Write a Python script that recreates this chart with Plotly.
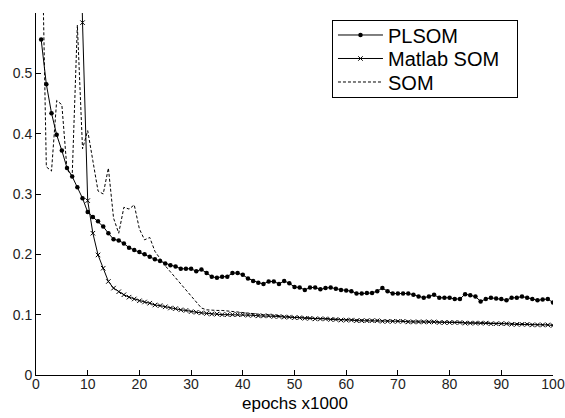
import plotly.graph_objects as go

epochs = list(range(1, 101))

plsom = [0.556, 0.482, 0.434, 0.398, 0.372, 0.343, 0.329, 0.311, 0.293, 0.270,
         0.262, 0.255, 0.246, 0.235, 0.225, 0.223, 0.218, 0.211, 0.207, 0.204,
         0.200, 0.196, 0.192, 0.189, 0.185, 0.182, 0.180, 0.176, 0.176, 0.176,
         0.172, 0.175, 0.169, 0.163, 0.161, 0.163, 0.163, 0.169, 0.169, 0.166,
         0.160, 0.156, 0.153, 0.151, 0.155, 0.155, 0.151, 0.156, 0.152, 0.146,
         0.145, 0.141, 0.145, 0.145, 0.142, 0.144, 0.145, 0.143, 0.141, 0.140,
         0.139, 0.135, 0.135, 0.136, 0.136, 0.139, 0.144, 0.139, 0.135, 0.135,
         0.135, 0.135, 0.133, 0.130, 0.128, 0.130, 0.133, 0.128, 0.128, 0.128,
         0.126, 0.126, 0.134, 0.132, 0.130, 0.122, 0.126, 0.128, 0.127, 0.126,
         0.124, 0.128, 0.128, 0.130, 0.128, 0.126, 0.124, 0.125, 0.126, 0.120]

matlab_som = [None, None, None, None, None, None, None, 1.000, 0.584, 0.289,
              0.235, 0.199, 0.177, 0.155, 0.144, 0.138, 0.133, 0.129, 0.126, 0.123,
              0.121, 0.119, 0.116, 0.115, 0.113, 0.111, 0.110, 0.108, 0.107, 0.105,
              0.104, 0.103, 0.102, 0.101, 0.101, 0.100, 0.100, 0.100, 0.100, 0.100,
              0.099, 0.099, 0.098, 0.098, 0.098, 0.097, 0.097, 0.096, 0.096, 0.095,
              0.095, 0.094, 0.094, 0.093, 0.093, 0.093, 0.092, 0.092, 0.091, 0.091,
              0.091, 0.090, 0.090, 0.090, 0.090, 0.090, 0.089, 0.089, 0.089, 0.089,
              0.089, 0.088, 0.088, 0.088, 0.088, 0.088, 0.088, 0.087, 0.087, 0.087,
              0.087, 0.087, 0.086, 0.086, 0.086, 0.086, 0.086, 0.085, 0.085, 0.085,
              0.085, 0.084, 0.084, 0.084, 0.084, 0.083, 0.083, 0.083, 0.083, 0.082]

som = [0.800, 0.345, 0.338, 0.455, 0.448, 0.340, 0.330, 0.580, 0.375, 0.405,
       0.355, 0.305, 0.300, 0.343, 0.260, 0.235, 0.278, 0.275, 0.282, 0.242,
       0.224, 0.228, 0.205, 0.192, 0.181, 0.171, 0.161, 0.151, 0.141, 0.131,
       0.121, 0.111, 0.108, 0.107, 0.107, 0.107, 0.106, 0.106, 0.105, 0.104,
       0.103, 0.102, 0.101, 0.100, 0.100, 0.099, 0.098, 0.097, 0.097, 0.096,
       0.096, 0.095, 0.095, 0.094, 0.094, 0.094, 0.093, 0.093, 0.092, 0.092,
       0.092, 0.091, 0.091, 0.091, 0.091, 0.091, 0.090, 0.090, 0.090, 0.090,
       0.090, 0.089, 0.089, 0.089, 0.089, 0.089, 0.089, 0.088, 0.088, 0.088,
       0.088, 0.088, 0.087, 0.087, 0.087, 0.087, 0.087, 0.086, 0.086, 0.086,
       0.086, 0.085, 0.085, 0.085, 0.085, 0.084, 0.084, 0.084, 0.084, 0.083]

x_ticks = [0, 10, 20, 30, 40, 50, 60, 70, 80, 90, 100]
x_tick_labels = ["0", "10", "20", "30", "40", "50", "60", "70", "80", "90", "100"]
y_ticks = [0, 0.1, 0.2, 0.3, 0.4, 0.5]
y_tick_labels = ["0", "0.1", "0.2", "0.3", "0.4", "0.5"]
x_title = "epochs x1000"

FONT = "Liberation Sans, Arial, sans-serif"

fig = go.Figure()
fig.add_trace(go.Scatter(
    x=epochs, y=plsom, name="PLSOM", mode="lines+markers",
    line=dict(color="black", width=1),
    marker=dict(symbol="circle", size=4.5, color="black"),
))
fig.add_trace(go.Scatter(
    x=epochs, y=matlab_som, name="Matlab SOM", mode="lines+markers",
    line=dict(color="black", width=1),
    marker=dict(symbol="x-thin", size=4.5, color="black",
                line=dict(color="black", width=1)),
))
fig.add_trace(go.Scatter(
    x=epochs, y=som, name="SOM", mode="lines",
    line=dict(color="black", width=1, dash="3px,2px"),
))

fig.update_layout(
    width=565, height=418,
    margin=dict(l=36, r=12, t=13, b=43, autoexpand=False),
    paper_bgcolor="white", plot_bgcolor="white",
    font=dict(family=FONT, color="black"),
    showlegend=True,
    legend=dict(
        x=0.5725, y=0.9807, xanchor="left", yanchor="top",
        bgcolor="white", bordercolor="black", borderwidth=1,
        font=dict(family=FONT, size=20, color="black"),
        itemwidth=45, tracegroupgap=0,
    ),
    xaxis=dict(
        range=[0, 100], tickvals=x_ticks, ticktext=x_tick_labels,
        ticks="inside", ticklen=5, tickcolor="black",
        showline=True, linecolor="black", linewidth=1,
        showgrid=False, zeroline=False, ticklabelstandoff=-4,
        automargin=False,
        tickfont=dict(family=FONT, size=14, color="#222"),
    ),
    yaxis=dict(
        range=[0, 0.6], tickvals=y_ticks, ticktext=y_tick_labels,
        ticks="inside", ticklen=5, tickcolor="black",
        showline=True, linecolor="black", linewidth=1,
        showgrid=False, zeroline=False, automargin=False,
        tickfont=dict(family=FONT, size=14, color="#222"),
    ),
    annotations=[dict(
        text=x_title, xref="paper", yref="paper", x=0.5, y=-0.078,
        xanchor="center", yanchor="middle", showarrow=False,
        font=dict(family=FONT, size=17, color="black"),
    )],
)

# Remove the page's default body margin and tighten legend row spacing
post = """
document.body.style.margin = '0';
document.body.style.overflow = 'hidden';
var gd = document.getElementById('{plot_id}');
var rows = gd.querySelectorAll('.legend .traces');
var step = 23.5, first = 15;
rows.forEach(function(el, i){
  el.setAttribute('transform', 'translate(1,' + (first + i*step) + ')');
});
var bg = gd.querySelector('.legend rect.bg');
if (bg) { bg.setAttribute('height', 77); bg.setAttribute('width', 185); }
var clip = gd.querySelectorAll('clipPath[id^="legend"] rect');
clip.forEach(function(r){ r.setAttribute('height', 77); r.setAttribute('width', 185); });
"""

fig.write_html("out.html", post_script=post, config={"displayModeBar": False})
